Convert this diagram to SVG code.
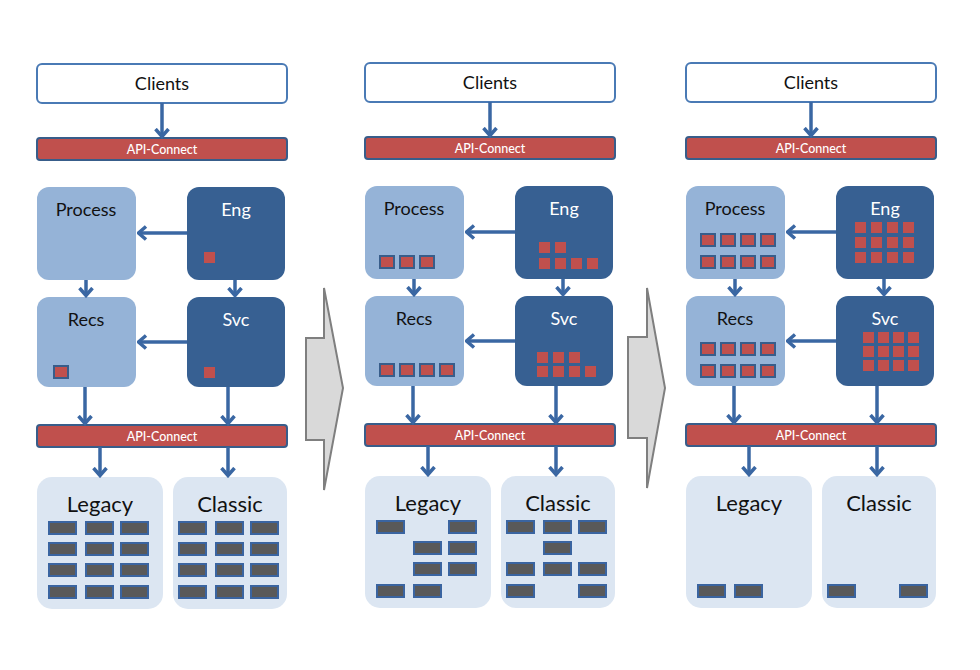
<svg xmlns="http://www.w3.org/2000/svg" xmlns:xlink="http://www.w3.org/1999/xlink" width="980" height="670" viewBox="0 0 980 670">
<style>
text{font-family:Lato,"Open Sans","Liberation Sans",sans-serif;text-anchor:middle}
.cli{fill:#fff;stroke:#4a7ab5;stroke-width:2}
.api{fill:#c0504d;stroke:#385d8a;stroke-width:2}
.lt{fill:#95b3d7}
.dk{fill:#376092}
.bt{fill:#dce6f2}
.t18{font-size:18px;fill:#111}
.tw{font-size:18px;fill:#fff}
.tapi{font-size:12.5px;fill:#fff;font-weight:500}
.tbig{font-size:22px;fill:#111}
.sq{fill:#c0504d}
.sqo{fill:#c0504d;stroke:#385d8a;stroke-width:2}
.db{fill:#595959;stroke:#3a64a0;stroke-width:2}
.con{stroke:#3a67a3;stroke-width:3.5;fill:none;marker-end:url(#ah)}
.big{fill:#d9d9d9;stroke:#7f7f7f;stroke-width:2}
</style>
<defs>
<marker id="ah" viewBox="0 0 11 16" refX="9.5" refY="8" markerWidth="11" markerHeight="16" markerUnits="userSpaceOnUse" orient="auto">
<path d="M1.5,1.5 L9,8 L1.5,14.5" fill="none" stroke="#3a67a3" stroke-width="3.5"/>
</marker>
<g id="base">
<g id="clients"><rect class="cli" x="37" y="64" width="250" height="39" rx="5"/><text class="t18" x="162" y="90">Clients</text></g>
<g id="api1"><rect class="api" x="37" y="138" width="250" height="22" rx="3"/><text class="tapi" x="162" y="153.5">API-Connect</text></g>
<g id="process"><rect class="lt" x="37" y="187" width="99" height="93" rx="12"/><text class="t18" x="86" y="216">Process</text></g>
<g id="eng"><rect class="dk" x="187" y="187" width="98" height="93" rx="12"/><text class="tw" x="236" y="216">Eng</text></g>
<g id="recs"><rect class="lt" x="37" y="297" width="99" height="90" rx="12"/><text class="t18" x="86" y="326">Recs</text></g>
<g id="svc"><rect class="dk" x="187" y="297" width="98" height="90" rx="12"/><text class="tw" x="236" y="326">Svc</text></g>
<g id="api2"><rect class="api" x="37" y="425" width="250" height="22" rx="3"/><text class="tapi" x="162" y="440.5">API-Connect</text></g>
<g id="legacy"><rect class="bt" x="37" y="477" width="126" height="132" rx="15"/><text class="tbig" x="100" y="512">Legacy</text></g>
<g id="classic"><rect class="bt" x="173" y="477" width="114" height="132" rx="15"/><text class="tbig" x="230" y="512">Classic</text></g>
<g id="connectors">
<line class="con" x1="162" y1="103" x2="162" y2="137"/>
<line class="con" x1="187" y1="233" x2="138" y2="233"/>
<line class="con" x1="187" y1="342" x2="138" y2="342"/>
<line class="con" x1="86" y1="280" x2="86" y2="296"/>
<line class="con" x1="235" y1="280" x2="235" y2="296"/>
<line class="con" x1="85" y1="387" x2="85" y2="424"/>
<line class="con" x1="228" y1="387" x2="228" y2="424"/>
<line class="con" x1="100" y1="447" x2="100" y2="476"/>
<line class="con" x1="228" y1="447" x2="228" y2="476"/>
</g>
</g>
</defs>

<g id="panel1">
<use xlink:href="#base"/>
<g id="p1-items">
<rect class="sq" x="204" y="252" width="11" height="11"/>
<rect class="sq" x="204" y="367" width="11" height="11"/>
<rect class="sqo" x="54" y="366" width="14" height="12"/>
<g id="p1-db">
<rect class="db" x="49" y="522" width="27" height="12"/><rect class="db" x="86" y="522" width="27" height="12"/><rect class="db" x="121" y="522" width="27" height="12"/>
<rect class="db" x="49" y="543" width="27" height="12"/><rect class="db" x="86" y="543" width="27" height="12"/><rect class="db" x="121" y="543" width="27" height="12"/>
<rect class="db" x="49" y="564" width="27" height="12"/><rect class="db" x="86" y="564" width="27" height="12"/><rect class="db" x="121" y="564" width="27" height="12"/>
<rect class="db" x="49" y="586" width="27" height="12"/><rect class="db" x="86" y="586" width="27" height="12"/><rect class="db" x="121" y="586" width="27" height="12"/>
<rect class="db" x="179" y="522" width="27" height="12"/><rect class="db" x="216" y="522" width="27" height="12"/><rect class="db" x="251" y="522" width="27" height="12"/>
<rect class="db" x="179" y="543" width="27" height="12"/><rect class="db" x="216" y="543" width="27" height="12"/><rect class="db" x="251" y="543" width="27" height="12"/>
<rect class="db" x="179" y="564" width="27" height="12"/><rect class="db" x="216" y="564" width="27" height="12"/><rect class="db" x="251" y="564" width="27" height="12"/>
<rect class="db" x="179" y="586" width="27" height="12"/><rect class="db" x="216" y="586" width="27" height="12"/><rect class="db" x="251" y="586" width="27" height="12"/>
</g>
</g>
</g>

<g id="transition1"><polygon class="big" points="306,338 324,338 324,288 343,388 324,490 324,440 306,440"/></g>

<g id="panel2" transform="translate(328,-1)">
<use xlink:href="#base"/>
<g id="p2-items">
<rect class="sqo" x="52" y="257" width="14" height="12"/><rect class="sqo" x="72" y="257" width="14" height="12"/><rect class="sqo" x="92" y="257" width="14" height="12"/>
<rect class="sqo" x="52" y="365" width="14" height="12"/><rect class="sqo" x="72" y="365" width="14" height="12"/><rect class="sqo" x="92" y="365" width="14" height="12"/><rect class="sqo" x="112" y="365" width="14" height="12"/>
<rect class="sq" x="211" y="243" width="11" height="11"/><rect class="sq" x="227" y="243" width="11" height="11"/>
<rect class="sq" x="211" y="259" width="11" height="11"/><rect class="sq" x="227" y="259" width="11" height="11"/><rect class="sq" x="243" y="259" width="11" height="11"/><rect class="sq" x="259" y="259" width="11" height="11"/>
<rect class="sq" x="209" y="353" width="11" height="11"/><rect class="sq" x="225" y="353" width="11" height="11"/><rect class="sq" x="241" y="353" width="11" height="11"/>
<rect class="sq" x="209" y="367" width="11" height="11"/><rect class="sq" x="225" y="367" width="11" height="11"/><rect class="sq" x="241" y="367" width="11" height="11"/><rect class="sq" x="257" y="367" width="11" height="11"/>
<g id="p2-db">
<rect class="db" x="49" y="522" width="27" height="12"/><rect class="db" x="121" y="522" width="27" height="12"/>
<rect class="db" x="86" y="543" width="27" height="12"/><rect class="db" x="121" y="543" width="27" height="12"/>
<rect class="db" x="86" y="564" width="27" height="12"/><rect class="db" x="121" y="564" width="27" height="12"/>
<rect class="db" x="49" y="586" width="27" height="12"/><rect class="db" x="86" y="586" width="27" height="12"/>
<rect class="db" x="179" y="522" width="27" height="12"/><rect class="db" x="216" y="522" width="27" height="12"/><rect class="db" x="251" y="522" width="27" height="12"/>
<rect class="db" x="216" y="543" width="27" height="12"/>
<rect class="db" x="179" y="564" width="27" height="12"/><rect class="db" x="216" y="564" width="27" height="12"/><rect class="db" x="251" y="564" width="27" height="12"/>
<rect class="db" x="179" y="586" width="27" height="12"/><rect class="db" x="251" y="586" width="27" height="12"/>
</g>
</g>
</g>

<g id="transition2"><polygon class="big" points="628,337 647,337 647,288 665,388 647,488 647,438 628,438"/></g>

<g id="panel3" transform="translate(649,-1)">
<use xlink:href="#base"/>
<g id="p3-items">
<rect class="sqo" x="52" y="235" width="14" height="12"/><rect class="sqo" x="72" y="235" width="14" height="12"/><rect class="sqo" x="92" y="235" width="14" height="12"/><rect class="sqo" x="112" y="235" width="14" height="12"/>
<rect class="sqo" x="52" y="257" width="14" height="12"/><rect class="sqo" x="72" y="257" width="14" height="12"/><rect class="sqo" x="92" y="257" width="14" height="12"/><rect class="sqo" x="112" y="257" width="14" height="12"/>
<rect class="sqo" x="52" y="344" width="14" height="12"/><rect class="sqo" x="72" y="344" width="14" height="12"/><rect class="sqo" x="92" y="344" width="14" height="12"/><rect class="sqo" x="112" y="344" width="14" height="12"/>
<rect class="sqo" x="52" y="366" width="14" height="12"/><rect class="sqo" x="72" y="366" width="14" height="12"/><rect class="sqo" x="92" y="366" width="14" height="12"/><rect class="sqo" x="112" y="366" width="14" height="12"/>
<rect class="sq" x="206" y="223" width="11" height="11"/><rect class="sq" x="222" y="223" width="11" height="11"/><rect class="sq" x="238" y="223" width="11" height="11"/><rect class="sq" x="254" y="223" width="11" height="11"/>
<rect class="sq" x="206" y="238" width="11" height="11"/><rect class="sq" x="222" y="238" width="11" height="11"/><rect class="sq" x="238" y="238" width="11" height="11"/><rect class="sq" x="254" y="238" width="11" height="11"/>
<rect class="sq" x="206" y="253" width="11" height="11"/><rect class="sq" x="222" y="253" width="11" height="11"/><rect class="sq" x="238" y="253" width="11" height="11"/><rect class="sq" x="254" y="253" width="11" height="11"/>
<rect class="sq" x="214" y="333" width="11" height="11"/><rect class="sq" x="229" y="333" width="11" height="11"/><rect class="sq" x="244" y="333" width="11" height="11"/><rect class="sq" x="259" y="333" width="11" height="11"/>
<rect class="sq" x="214" y="347" width="11" height="11"/><rect class="sq" x="229" y="347" width="11" height="11"/><rect class="sq" x="244" y="347" width="11" height="11"/><rect class="sq" x="259" y="347" width="11" height="11"/>
<rect class="sq" x="214" y="361" width="11" height="11"/><rect class="sq" x="229" y="361" width="11" height="11"/><rect class="sq" x="244" y="361" width="11" height="11"/><rect class="sq" x="259" y="361" width="11" height="11"/>
<g id="p3-db">
<rect class="db" x="49" y="586" width="27" height="12"/><rect class="db" x="86" y="586" width="27" height="12"/>
<rect class="db" x="179" y="586" width="27" height="12"/><rect class="db" x="251" y="586" width="27" height="12"/>
</g>
</g>
</g>
</svg>
